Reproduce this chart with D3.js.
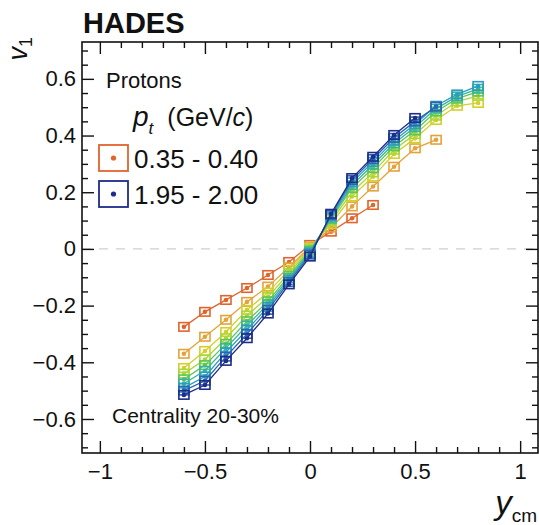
<!DOCTYPE html>
<html>
<head>
<meta charset="utf-8">
<script src="https://cdn.jsdelivr.net/npm/d3@7"></script>
<style>
  html, body { margin: 0; padding: 0; background: #fff; }
  svg { display: block; }
  text { font-family: "Liberation Sans", Arial, Helvetica, sans-serif; fill: #111; }
</style>
</head>
<body>
<svg id="chart" width="539" height="525"></svg>
<script>
// Rapidity bin centres (y_cm)
const rapidity = [-0.6, -0.5, -0.4, -0.3, -0.2, -0.1, 0.0, 0.1, 0.2, 0.3, 0.4, 0.5, 0.6, 0.7, 0.8];

// Proton directed flow v1 per transverse-momentum bin (null = outside acceptance)
const v1_pt035 = [-0.275, -0.222, -0.180, -0.138, -0.092, -0.046, 0.014, 0.061, 0.108, 0.155, null, null, null, null, null];
const v1_pt055 = [-0.370, -0.310, -0.250, -0.187, -0.133, -0.065, 0.008, 0.075, 0.150, 0.220, 0.290, 0.355, 0.385, null, null];
const v1_pt075 = [-0.420, -0.360, -0.293, -0.215, -0.154, -0.074, 0.004, 0.088, 0.185, 0.255, 0.335, 0.390, 0.455, 0.505, 0.515];
const v1_pt095 = [-0.440, -0.390, -0.315, -0.235, -0.170, -0.085, 0.000, 0.097, 0.200, 0.270, 0.350, 0.405, 0.470, 0.520, 0.540];
const v1_pt115 = [-0.460, -0.410, -0.335, -0.255, -0.185, -0.095, -0.005, 0.105, 0.215, 0.285, 0.362, 0.418, 0.485, 0.530, 0.555];
const v1_pt135 = [-0.475, -0.430, -0.350, -0.270, -0.195, -0.103, -0.010, 0.110, 0.225, 0.297, 0.372, 0.430, 0.495, 0.538, 0.565];
const v1_pt155 = [-0.490, -0.450, -0.365, -0.285, -0.205, -0.110, -0.015, 0.115, 0.235, 0.307, 0.382, 0.440, 0.505, 0.545, 0.575];
const v1_pt175 = [-0.500, -0.465, -0.380, -0.300, -0.215, -0.117, -0.020, 0.120, 0.243, 0.317, 0.392, 0.450, 0.502, null, null];
const v1_pt195 = [-0.515, -0.480, -0.395, -0.315, -0.228, -0.125, -0.027, 0.124, 0.250, 0.325, 0.402, 0.462, null, null, null];

const seriesValues = [v1_pt035, v1_pt055, v1_pt075, v1_pt095, v1_pt115, v1_pt135, v1_pt155, v1_pt175, v1_pt195];
const seriesColors = ["#e0642c", "#e6a23a", "#d4cf2a", "#a6d83c", "#5cc65a", "#38b49a", "#2a9cc6", "#2a64b2", "#1e2c8a"];

// Legend entries (first and last p_t bin)
const legendLabels = ["0.35 - 0.40", "1.95 - 2.00"];
const legendSeries = [0, 8];

// Axis ticks
const xTickValues = [-1, -0.5, 0, 0.5, 1];
const xTickLabels = ["\u22121", "\u22120.5", "0", "0.5", "1"];
const yTickValues = [-0.6, -0.4, -0.2, 0, 0.2, 0.4, 0.6];
const yTickLabels = ["\u22120.6", "\u22120.4", "\u22120.2", "0", "0.2", "0.4", "0.6"];
const xMinorTicks = d3.range(-10, 11).map(i => i / 10).filter(v => Math.abs(v * 2 - Math.round(v * 2)) > 1e-6);
const yMinorTicks = d3.range(-14, 15).map(i => i / 20).filter(v => Math.abs(v * 5 - Math.round(v * 5)) > 1e-6);

const sysErr = 0.015;      // systematic half-height of the boxes (v1 units)
const boxHalfWidth = 0.024; // rapidity half-width of the boxes

const svg = d3.select("#chart");
const frame = { left: 82, right: 538, top: 42, bottom: 453 };

const x = d3.scaleLinear().domain([-1.085, 1.085]).range([frame.left, frame.right]);
const y = d3.scaleLinear().domain([-0.72, 0.73]).range([frame.bottom, frame.top]);

// zero line
svg.append("line")
  .attr("x1", frame.left).attr("x2", frame.right)
  .attr("y1", y(0)).attr("y2", y(0))
  .attr("stroke", "#cfcfcf").attr("stroke-width", 1.3)
  .attr("stroke-dasharray", "9,8");

// axes (ticks point inward)
const axisStyle = g => {
  g.select(".domain").remove();
  g.selectAll(".tick line").attr("stroke", "#111").attr("stroke-width", 1.4);
  g.selectAll("text").attr("font-size", 22).attr("fill", "#111")
    .attr("font-family", "'Liberation Sans', Arial, sans-serif");
};

svg.append("g").attr("transform", `translate(0,${frame.bottom})`)
  .call(d3.axisBottom(x).tickValues(xTickValues).tickSizeInner(-12).tickSizeOuter(0).tickPadding(10)
    .tickFormat((d, i) => xTickLabels[i]))
  .call(axisStyle);
svg.append("g").attr("transform", `translate(0,${frame.bottom})`)
  .call(d3.axisBottom(x).tickValues(xMinorTicks).tickSizeInner(-6).tickSizeOuter(0).tickFormat(""))
  .call(axisStyle);
svg.append("g").attr("transform", `translate(0,${frame.top})`)
  .call(d3.axisTop(x).tickValues(xTickValues).tickSizeInner(-12).tickSizeOuter(0).tickFormat(""))
  .call(axisStyle);
svg.append("g").attr("transform", `translate(0,${frame.top})`)
  .call(d3.axisTop(x).tickValues(xMinorTicks).tickSizeInner(-6).tickSizeOuter(0).tickFormat(""))
  .call(axisStyle);

svg.append("g").attr("transform", `translate(${frame.left},0)`)
  .call(d3.axisLeft(y).tickValues(yTickValues).tickSizeInner(-12).tickSizeOuter(0).tickPadding(6)
    .tickFormat((d, i) => yTickLabels[i]))
  .call(axisStyle);
svg.append("g").attr("transform", `translate(${frame.left},0)`)
  .call(d3.axisLeft(y).tickValues(yMinorTicks).tickSizeInner(-6).tickSizeOuter(0).tickFormat(""))
  .call(axisStyle);
svg.append("g").attr("transform", `translate(${frame.right},0)`)
  .call(d3.axisRight(y).tickValues(yTickValues).tickSizeInner(-12).tickSizeOuter(0).tickFormat(""))
  .call(axisStyle);
svg.append("g").attr("transform", `translate(${frame.right},0)`)
  .call(d3.axisRight(y).tickValues(yMinorTicks).tickSizeInner(-6).tickSizeOuter(0).tickFormat(""))
  .call(axisStyle);

// frame
svg.append("rect")
  .attr("x", frame.left).attr("y", frame.top)
  .attr("width", frame.right - frame.left).attr("height", frame.bottom - frame.top)
  .attr("fill", "none").attr("stroke", "#111").attr("stroke-width", 1.6);

// data series
const line = d3.line().defined(d => d.v !== null).x(d => x(d.y)).y(d => y(d.v));
seriesValues.forEach((vals, si) => {
  const col = seriesColors[si];
  const pts = rapidity.map((r, i) => ({ y: r, v: vals[i] }));
  const valid = pts.filter(d => d.v !== null);
  const g = svg.append("g");
  g.append("path").datum(pts).attr("d", line)
    .attr("fill", "none").attr("stroke", col).attr("stroke-width", 1.3);
  g.selectAll("rect").data(valid).join("rect")
    .attr("x", d => x(d.y - boxHalfWidth))
    .attr("y", d => y(d.v + sysErr))
    .attr("width", d => x(d.y + boxHalfWidth) - x(d.y - boxHalfWidth))
    .attr("height", d => y(d.v - sysErr) - y(d.v + sysErr))
    .attr("fill", "none").attr("stroke", col).attr("stroke-width", 1.6);
  g.selectAll("circle").data(valid).join("circle")
    .attr("cx", d => x(d.y)).attr("cy", d => y(d.v)).attr("r", 2.3)
    .attr("fill", col);
});

// labels inside the frame
svg.append("text").attr("x", 106).attr("y", 88).attr("font-size", 22).text("Protons");

const ptLabel = svg.append("text").attr("x", 133).attr("y", 126).attr("font-size", 25);
ptLabel.append("tspan").attr("font-style", "italic").attr("font-size", 28).text("p");
ptLabel.append("tspan").attr("font-style", "italic").attr("font-size", 17).attr("dy", 8).text("t");
ptLabel.append("tspan").attr("dy", -8).attr("dx", 14).text("(GeV/");
ptLabel.append("tspan").attr("font-style", "italic").text("c");
ptLabel.append("tspan").text(")");

legendLabels.forEach((lab, i) => {
  const si = legendSeries[i];
  const cy = 158 + i * 36;
  svg.append("rect").attr("x", 99).attr("y", cy - 13).attr("width", 29).attr("height", 26)
    .attr("fill", "#fff").attr("stroke", seriesColors[si]).attr("stroke-width", 1.8);
  svg.append("circle").attr("cx", 113.5).attr("cy", cy).attr("r", 2.6).attr("fill", seriesColors[si]);
  svg.append("text").attr("x", 134).attr("y", cy + 9.5).attr("font-size", 26).text(lab);
});

svg.append("text").attr("x", 112).attr("y", 423).attr("font-size", 21).text("Centrality 20-30%");

// experiment label
svg.append("text").attr("x", 83).attr("y", 33).attr("font-size", 29).attr("font-weight", "bold").text("HADES");

// axis titles
const yTitle = svg.append("text").attr("transform", "translate(27,37) rotate(-90)")
  .attr("text-anchor", "end").attr("font-size", 27);
yTitle.append("tspan").attr("font-style", "italic").text("v");
yTitle.append("tspan").attr("font-size", 18).attr("dy", 5).text("1");

const xTitle = svg.append("text").attr("x", 537).attr("y", 514).attr("text-anchor", "end").attr("font-size", 33);
xTitle.append("tspan").attr("font-style", "italic").text("y");
xTitle.append("tspan").attr("font-size", 19).attr("dy", 8).text("cm");
</script>
</body>
</html>
